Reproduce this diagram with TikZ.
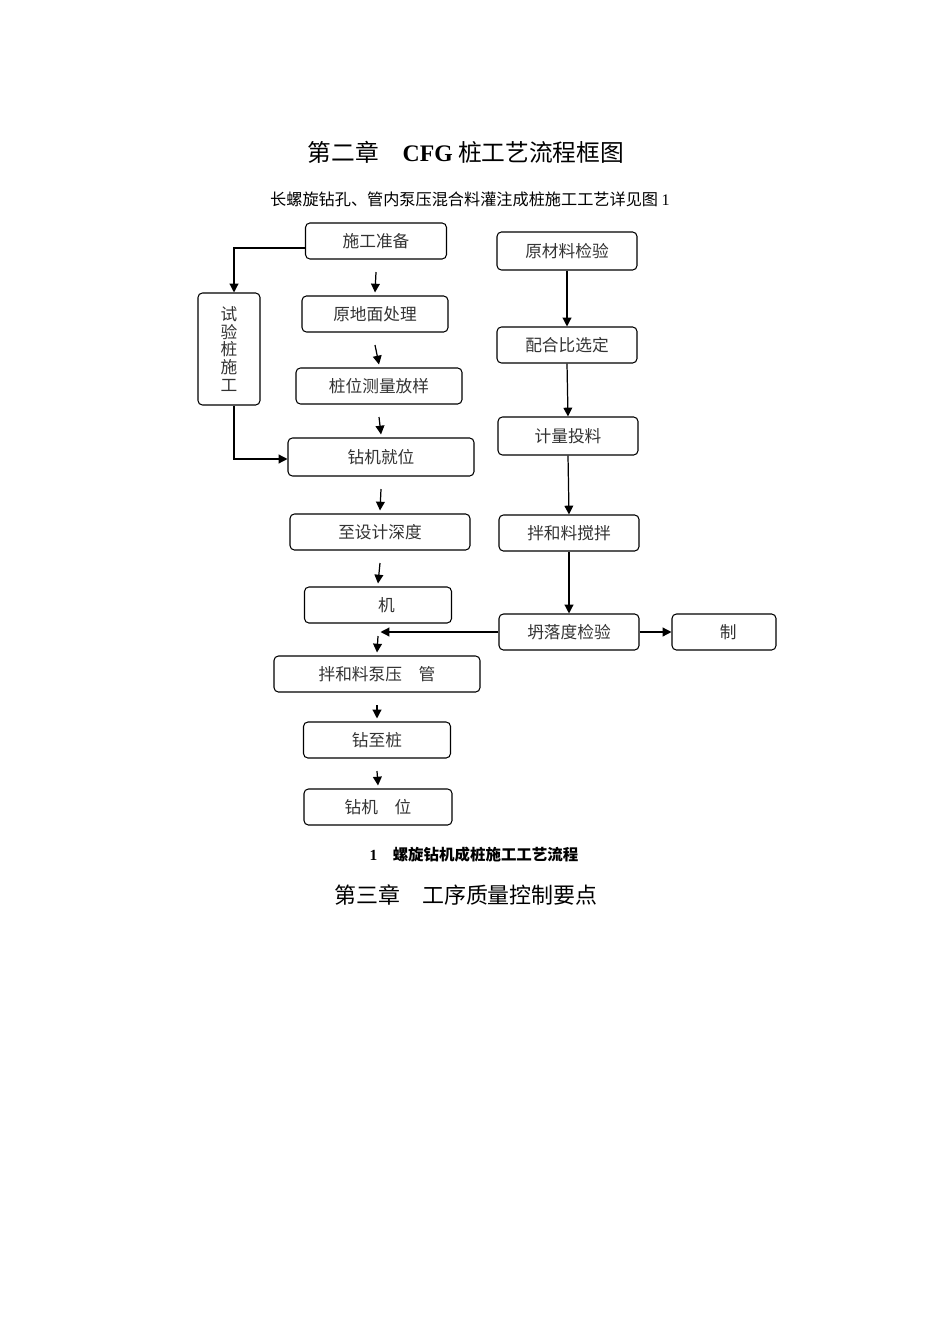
\documentclass[tikz,border=0pt]{standalone}
\usepackage{fontspec}
\setmainfont{Liberation Serif}
\newfontfamily\cjk{Noto Sans CJK SC}
\usetikzlibrary{arrows.meta}
\begin{document}
\begin{tikzpicture}[x=0.02cm,y=-0.02cm,
 box/.style={draw,rounded corners=2.5pt,line width=0.6pt,minimum height=0.72cm,inner sep=0pt,font=\cjk\fontsize{9.5}{11}\selectfont,text=black!80},
 arr/.style={-{Triangle[length=5pt,width=5pt]},line width=0.7pt}]
\useasboundingbox (0,0) rectangle (950,1344);
\node[font=\cjk\fontsize{13.5}{16}\selectfont] (t1) at (466,152) {第二章\quad {\rmfamily\bfseries CFG} 桩工艺流程框图};
\node[font=\cjk\fontsize{9.2}{11}\selectfont] (t2) at (470,199) {长螺旋钻孔、管内泵压混合料灌注成桩施工工艺详见图 {\rmfamily 1}};
\node[box,minimum width=2.82cm] (a1) at (376,241) {施工准备};
\node[box,minimum width=2.92cm] (a2) at (375,314) {原地面处理};
\node[box,minimum width=3.32cm] (a3) at (379,386) {桩位测量放样};
\node[box,minimum width=3.72cm,minimum height=0.76cm] (a4) at (381,457) {钻机就位};
\node[box,minimum width=3.6cm] (a5) at (380,532) {至设计深度};
\node[box,minimum width=2.94cm] (a6) at (378,605) {\hspace{1em}机};
\node[box,minimum width=4.12cm] (a7) at (377,674) {拌和料泵压\hspace{1em}管};
\node[box,minimum width=2.94cm] (a8) at (377,740) {钻至桩};
\node[box,minimum width=2.96cm] (a9) at (378,807) {钻机\hspace{1em}位};
\node[box,minimum width=1.24cm,minimum height=2.24cm,align=center,font=\cjk\fontsize{9.5}{10}\selectfont] (s) at (229,349) {试\\验\\桩\\施\\工};
\node[box,minimum width=2.8cm,minimum height=0.76cm] (b1) at (567,251) {原材料检验};
\node[box,minimum width=2.8cm] (b2) at (567,345) {配合比选定};
\node[box,minimum width=2.8cm,minimum height=0.76cm] (b3) at (568,436) {计量投料};
\node[box,minimum width=2.8cm] (b4) at (569,533) {拌和料搅拌};
\node[box,minimum width=2.8cm] (b5) at (569,632) {坍落度检验};
\node[box,minimum width=2.08cm] (b6) at (724,632) {\hspace{0.5em}制};
\foreach \u/\v in {a1/a2,a2/a3,a3/a4,a4/a5,a5/a6,a6/a7,a7/a8,a8/a9}
  \draw[arr] ([yshift=-0.25cm]\u.south) -- ([yshift=0.06cm]\v.north);
\foreach \u/\v in {b1/b2,b2/b3,b3/b4,b4/b5}
  \draw[arr] (\u.south) -- (\v.north);
\coordinate (c1) at (234,248);
\coordinate (c2) at (234,459);
\draw[arr] (a1.west|-c1) -- (c1) -- (s.north-|c1);
\draw[arr] (s.south-|c1) -- (c2) -- (a4.west|-c2);
\coordinate (m) at (377,632);
\draw[arr] (b5.west) -- ([xshift=2pt]m);
\draw[arr] (b5.east) -- (b6.west);
\node[font=\cjk\bfseries\fontsize{8.8}{10}\selectfont] (cap) at (466,855) {{\rmfamily\bfseries 图 1}\quad 螺旋钻机成桩施工工艺流程};
\node[font=\cjk\fontsize{12.5}{15}\selectfont] (t3) at (466,895) {第三章\quad 工序质量控制要点};
\end{tikzpicture}
\end{document}
